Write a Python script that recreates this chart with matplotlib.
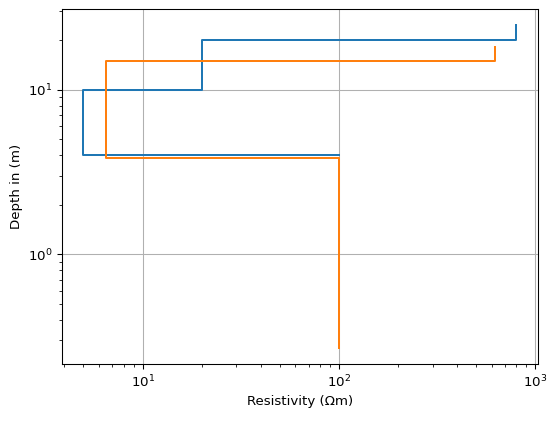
import numpy as np
import matplotlib
matplotlib.use('Agg')
import matplotlib.pyplot as plt

# two layered models: resistivity (ohm m) and depth (m) of each step
rho_1 = [100, 100, 5, 5, 20, 20, 800, 800]
depth_1 = [4.0, 4.0, 4.0, 10, 10, 20, 20, 24.7]

rho_2 = [100, 100, 6.5, 6.5, 620, 620]
depth_2 = [0.27, 3.85, 3.85, 15, 15, 18.2]

fig = plt.figure(figsize=(557/96, 422/96), dpi=96)
ax = fig.add_subplot(111)
fig.subplots_adjust(left=0.111, right=0.966, top=0.979, bottom=0.137)

ax.plot(rho_1, depth_1)
ax.plot(rho_2, depth_2)
ax.set_xscale('log')
ax.set_yscale('log')
ax.grid(True)
ax.set_xlabel('Resistivity (\u03a9m)')
ax.set_ylabel('Depth in (m)')

fig.savefig('out.png', dpi=96)
